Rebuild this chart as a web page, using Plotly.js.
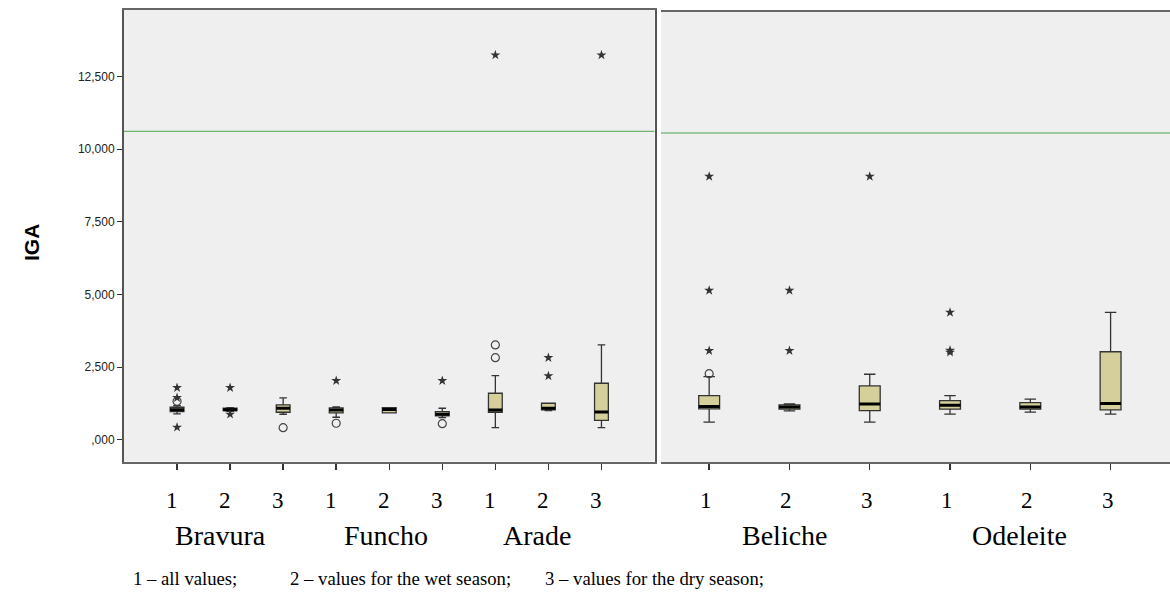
<!DOCTYPE html>
<html>
<head>
<meta charset="utf-8">
<script src="https://cdn.plot.ly/plotly-3.0.1.min.js"></script>
<style>html,body{margin:0;padding:0;background:#fff;}#chart{width:1170px;height:596px;}</style>
</head>
<body>
<div id="chart"></div>
<script>
// ---------- data ----------
const siteNames = ['Bravura', 'Funcho', 'Arade', 'Beliche', 'Odeleite'];
const subLabels = ['1', '2', '3'];
const footnotes = ['1 \u2013 all values;', '2 \u2013 values for the wet season;', '3 \u2013 values for the dry season;'];
const yTickVals = [0, 2500, 5000, 7500, 10000, 12500];
const yTickText = [',000', '2,500', '5,000', '7,500', '10,000', '12,500'];
const refLine = 10610;

// left panel: Bravura 1-3, Funcho 1-3, Arade 1-3
const leftQ1     = [973, 1008, 953, 929, 929, 825, 953, 1032, 677];
const leftMedian = [1042, 1042, 1090, 1032, 1049, 884, 1032, 1090, 963];
const leftQ3     = [1125, 1090, 1204, 1100, 1111, 973, 1606, 1262, 1950];
const leftLow    = [894, 987, 884, 781, 929, 767, 423, 1008, 423];
const leftHigh   = [1180, 1111, 1444, 1135, 1111, 1090, 2211, 1262, 3267];
const leftCircleX = [1, 3, 4, 6, 7, 7];
const leftCircleY = [1331, 423, 574, 561, 3267, 2830];
const leftStarX = [1, 1, 1, 2, 2, 4, 6, 7, 8, 8, 9];
const leftStarY = [1799, 1455, 437, 1799, 884, 2039, 2039, 13230, 2830, 2201, 13230];

// right panel: Beliche 1-3, Odeleite 1-3
const rightQ1     = [1100, 1090, 1042, 1090, 1090, 1066];
const rightMedian = [1180, 1169, 1272, 1228, 1169, 1283];
const rightQ3     = [1558, 1238, 1891, 1386, 1317, 3071];
const rightLow    = [643, 1032, 643, 918, 987, 918];
const rightHigh   = [2211, 1272, 2294, 1558, 1434, 4426];
const rightCircleX = [1];
const rightCircleY = [2314];
const rightStarX = [1, 1, 1, 2, 2, 3, 4, 4, 4];
const rightStarY = [9113, 5182, 3105, 5182, 3105, 9113, 4426, 3119, 3050];

// ---------- styling ----------
const W = 1170, H = 596;
const boxW = 0.26;
const boxFill = '#d5d09b';
const boxLine = '#333333';
const bg = '#efefef';
const serif = 'Liberation Serif, Times New Roman, serif';
const sans = 'Liberation Sans, Arial, sans-serif';

const px = v => v / W;
const py = v => 1 - v / H;

const leftX = leftQ1.map((_, i) => i + 1);
const rightX = rightQ1.map((_, i) => i + 1);

function medianSegs(xs, med) {
  const sx = [], sy = [];
  xs.forEach((x, i) => { sx.push(x - boxW / 2, x + boxW / 2, null); sy.push(med[i], med[i], null); });
  return {x: sx, y: sy};
}

function boxTrace(xs, q1, med, q3, lo, hi, xa, ya) {
  return {
    type: 'box', x: xs, q1: q1, median: med, q3: q3, lowerfence: lo, upperfence: hi,
    width: boxW, whiskerwidth: 0.55, boxpoints: false,
    fillcolor: boxFill, line: {color: boxLine, width: 1.3},
    xaxis: xa, yaxis: ya, showlegend: false, hoverinfo: 'skip'
  };
}

const lm = medianSegs(leftX, leftMedian);
const rm = medianSegs(rightX, rightMedian);

const starMarker = {symbol: 'star', size: 7.5, color: '#333'};
const circMarker = {symbol: 'circle-open', size: 8, color: '#444', line: {width: 1.2}};

const traces = [
  boxTrace(leftX, leftQ1, leftMedian, leftQ3, leftLow, leftHigh, 'x', 'y'),
  boxTrace(rightX, rightQ1, rightMedian, rightQ3, rightLow, rightHigh, 'x2', 'y2'),
  {type: 'scatter', mode: 'lines', x: lm.x, y: lm.y, line: {color: '#000', width: 3}, xaxis: 'x', yaxis: 'y', showlegend: false, hoverinfo: 'skip'},
  {type: 'scatter', mode: 'lines', x: rm.x, y: rm.y, line: {color: '#000', width: 3}, xaxis: 'x2', yaxis: 'y2', showlegend: false, hoverinfo: 'skip'},
  {type: 'scatter', mode: 'markers', x: leftCircleX, y: leftCircleY, marker: circMarker, xaxis: 'x', yaxis: 'y', showlegend: false},
  {type: 'scatter', mode: 'markers', x: rightCircleX, y: rightCircleY, marker: circMarker, xaxis: 'x2', yaxis: 'y2', showlegend: false},
  {type: 'scatter', mode: 'markers', x: leftStarX, y: leftStarY, marker: starMarker, xaxis: 'x', yaxis: 'y', showlegend: false},
  {type: 'scatter', mode: 'markers', x: rightStarX, y: rightStarY, marker: starMarker, xaxis: 'x2', yaxis: 'y2', showlegend: false}
];

const yRange = [-740, 14780];

const annotations = [];
// sub labels under ticks
const leftShift = -5, rightShift = -3;
const subY = py(500);
leftX.forEach((x, i) => annotations.push({x: x, xref: 'x', y: subY, yref: 'paper', xanchor: 'center', yanchor: 'middle', text: subLabels[i % 3], showarrow: false, xshift: leftShift, font: {family: serif, size: 23, color: '#000'}}));
rightX.forEach((x, i) => annotations.push({x: x, xref: 'x2', y: subY, yref: 'paper', xanchor: 'center', yanchor: 'middle', text: subLabels[i % 3], showarrow: false, xshift: rightShift, font: {family: serif, size: 23, color: '#000'}}));
// site names
const sitePos = [220, 386, 537, 785, 1019];
siteNames.forEach((s, i) => annotations.push({x: px(sitePos[i]), xref: 'paper', xanchor: 'center', yanchor: 'middle', y: py(535), yref: 'paper', text: s, showarrow: false, font: {family: serif, size: 28, color: '#000'}}));
// footnotes
const footPos = [131, 288, 543];
footnotes.forEach((s, i) => annotations.push({x: px(footPos[i]), xref: 'paper', xanchor: 'left', yanchor: 'middle', y: py(578), yref: 'paper', text: s, showarrow: false, font: {family: serif, size: 18.7, color: '#000'}}));
// y title
annotations.push({x: px(32), xref: 'paper', xanchor: 'center', y: py(243), yref: 'paper', yanchor: 'middle', text: '<b>IGA</b>', textangle: -90, showarrow: false, font: {family: sans, size: 21, color: '#000'}});

const layout = {
  width: W, height: H,
  margin: {l: 0, r: 0, t: 0, b: 0},
  paper_bgcolor: '#ffffff',
  plot_bgcolor: bg,
  showlegend: false,
  xaxis: {domain: [px(124), px(654.5)], range: [0, 10], tickvals: leftX, showticklabels: false, ticks: 'outside', ticklen: 6, tickwidth: 1.5, tickcolor: '#333',
          showgrid: false, zeroline: false, showline: true, linecolor: '#666', linewidth: 2, mirror: true, fixedrange: true},
  yaxis: {domain: [py(461.5), py(10)], range: yRange, tickvals: yTickVals, ticktext: yTickText, ticks: 'outside', ticklen: 5, tickwidth: 1, tickcolor: '#333',
          tickfont: {family: sans, size: 12, color: '#222'}, showgrid: false, zeroline: false, showline: true, linecolor: '#555', linewidth: 2, mirror: true, fixedrange: true},
  xaxis2: {domain: [px(661), 1], range: [0.4, 6.74], tickvals: rightX, showticklabels: false, ticks: 'outside', ticklen: 6, tickwidth: 1.5, tickcolor: '#333',
          showgrid: false, zeroline: false, showline: true, linecolor: '#666', linewidth: 2, mirror: true, anchor: 'y2', fixedrange: true},
  yaxis2: {domain: [py(462.3), py(12)], range: yRange, showticklabels: false, ticks: '', showgrid: false, zeroline: false, showline: false, anchor: 'x2', fixedrange: true},
  shapes: [
    {type: 'line', xref: 'x domain', yref: 'y', x0: 0, x1: 1, y0: refLine, y1: refLine, line: {color: '#4ea64e', width: 1}},
    {type: 'line', xref: 'x2 domain', yref: 'y2', x0: 0, x1: 1, y0: refLine, y1: refLine, line: {color: '#4ea64e', width: 1}}
  ],
  annotations: annotations
};

Plotly.newPlot('chart', traces, layout, {staticPlot: true, displayModeBar: false});
</script>
</body>
</html>
